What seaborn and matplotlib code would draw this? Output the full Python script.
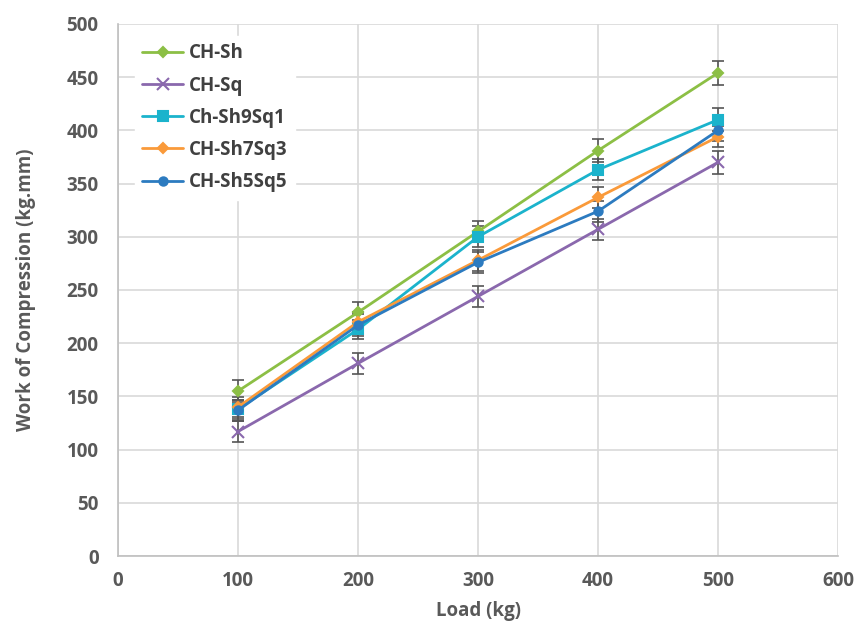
import matplotlib
matplotlib.use("Agg")
import matplotlib.pyplot as plt
import seaborn as sns
import pandas as pd

loads = [100, 200, 300, 400, 500]
series_names = ["CH-Sh", "CH-Sq", "Ch-Sh9Sq1", "CH-Sh7Sq3", "CH-Sh5Sq5"]
ch_sh = [155, 229, 305, 381, 454]
ch_sq = [117, 181, 244, 307, 370]
ch_sh9sq1 = [138, 213, 300, 363, 410]
ch_sh7sq3 = [140, 220, 278, 337, 394]
ch_sh5sq5 = [137, 217, 276, 324, 400]
err_sh = [10, 10, 10, 11, 11]
err_sq = [10, 10, 10, 10, 11]
err_sh9sq1 = [9, 9, 10, 10, 11]
err_sh7sq3 = [9, 9, 10, 10, 10]
err_sh5sq5 = [10, 10, 10, 10, 10]

values = [ch_sh, ch_sq, ch_sh9sq1, ch_sh7sq3, ch_sh5sq5]
errors = [err_sh, err_sq, err_sh9sq1, err_sh7sq3, err_sh5sq5]

df = pd.DataFrame({
    "Load": loads * len(series_names),
    "Work": [v for vals in values for v in vals],
    "Series": [n for n in series_names for _ in loads],
})

colors = ["#8CBF45", "#8A68AD", "#1BB3CC", "#FA9A3A", "#2C7BC0"]
markers = ["D", "x", "s", "D", "o"]
msizes = [5, 8, 7, 5, 6]

sns.set_style("white")
plt.rcParams["font.family"] = ["Open Sans", "DejaVu Sans"]

fig = plt.figure(figsize=(8.57, 6.29), dpi=100)
ax = fig.add_axes([0.1377, 0.116, 0.8403, 0.846])

# error bars under the lines
for vals, errs in zip(values, errors):
    ax.errorbar(loads, vals, yerr=errs, fmt="none", ecolor="#555555",
                elinewidth=1.2, capsize=4, capthick=1.2, zorder=2)

palette = dict(zip(series_names, colors))
sns.lineplot(data=df, x="Load", y="Work", hue="Series", hue_order=series_names,
             palette=palette, linewidth=2, ax=ax, legend=False, zorder=3)
series_lines = ax.get_lines()[-len(series_names):]
for line, mk, ms, c in zip(series_lines, markers, msizes, colors):
    line.set_marker(mk)
    line.set_markersize(ms)
    line.set_markerfacecolor(c)
    line.set_markeredgecolor(c)
    line.set_markeredgewidth(1.5)

ax.set_xlim(0, 600)
ax.set_ylim(0, 500)
ax.set_xticks(range(0, 601, 100))
ax.set_yticks(range(0, 501, 50))
ax.grid(True, color="#D9D9D9", linewidth=1.2)
ax.set_axisbelow(True)
for s in ["top", "right"]:
    ax.spines[s].set_visible(False)
for s in ["left", "bottom"]:
    ax.spines[s].set_color("#BFBFBF")
    ax.spines[s].set_linewidth(1.2)
ax.tick_params(axis="x", length=0, pad=11, labelsize=13.5, labelcolor="#595959")
ax.tick_params(axis="y", length=0, pad=14, labelsize=13.5, labelcolor="#595959")
for lab in ax.get_xticklabels() + ax.get_yticklabels():
    lab.set_fontweight("bold")

ax.set_xlabel("Load (kg)", fontsize=13.5, fontweight="bold", color="#595959", labelpad=7)
ax.set_ylabel("Work of Compression (kg.mm)", fontsize=13.5, fontweight="bold",
              color="#595959", labelpad=22)

leg = ax.legend(series_lines, series_names, loc="upper left", bbox_to_anchor=(0.01, 0.995),
                frameon=True, facecolor="white", edgecolor="white", framealpha=1,
                fontsize=13.5, handlelength=2.2, handletextpad=0.3,
                labelspacing=0.65, borderpad=0.4)
for t in leg.get_texts():
    t.set_fontweight("bold")
    t.set_color("#404040")

fig.savefig("out.png", dpi=100)
